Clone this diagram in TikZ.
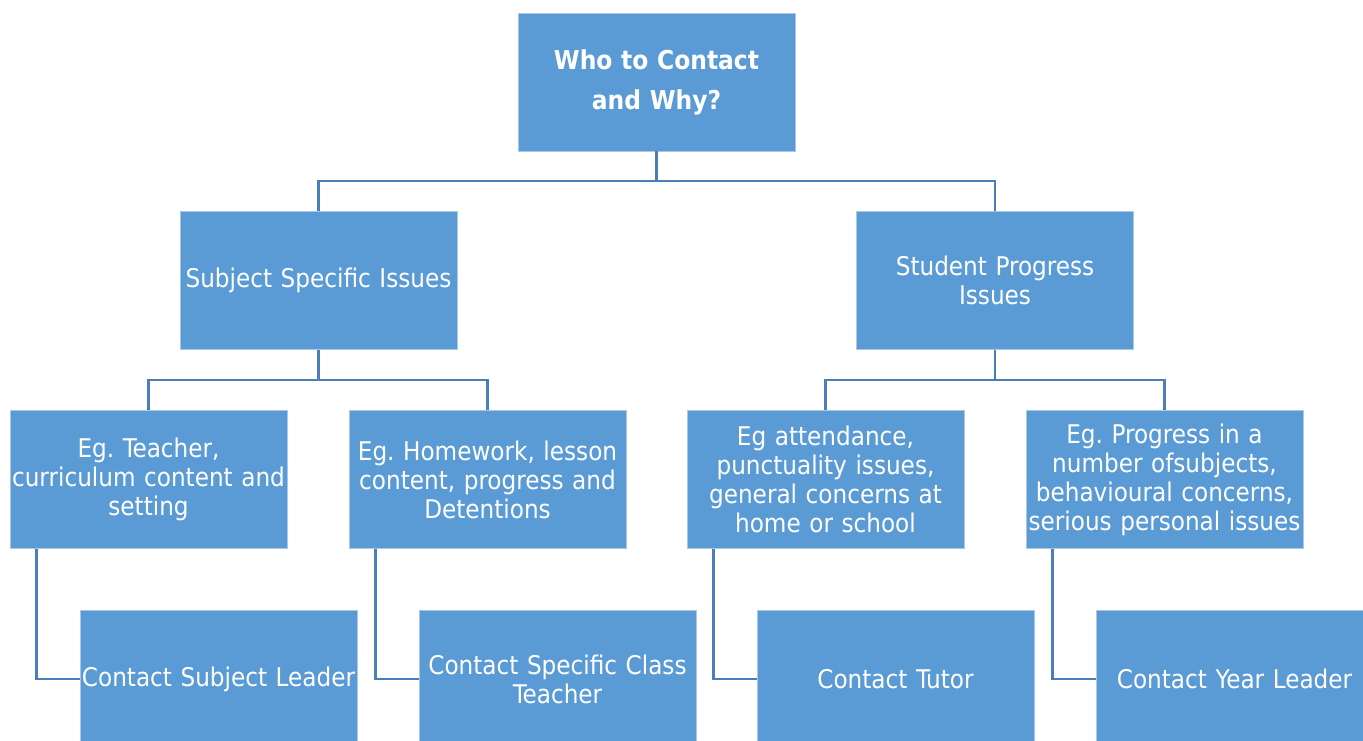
\documentclass[tikz,border=0pt]{standalone}
\usepackage{fontspec}
\setmainfont{DejaVu Sans Condensed}
\usetikzlibrary{positioning}
\frenchspacing
\definecolor{boxblue}{HTML}{5B9BD5}
\definecolor{boxedge}{HTML}{A9C8E8}
\definecolor{linkblue}{HTML}{4A7EBB}
\tikzstyle{block} = [rectangle, draw=boxedge, line width=0.6pt, fill=boxblue,
    text=white, minimum width=207.75pt, minimum height=103.5pt,
    text width=207pt, align=center, inner sep=0pt,
    font=\fontsize{19.3}{21.75}\selectfont]
\tikzstyle{line} = [draw=linkblue, line width=1.8pt]

\begin{document}
\begin{tikzpicture}[x=0.75pt, y=-0.75pt]
    \useasboundingbox (0,0) rectangle (1363,740);
    \clip (0,0) rectangle (1363,740);
    % Place nodes
\node [block, font=\bfseries\fontsize{19.5}{30}\selectfont] (who) at (656.5,82) {Who to Contact\\and Why?};
\node [block] (subject) at (318.5,280.5) {Subject Specific Issues};
\node [block] (progress) at (995,280.5) {Student Progress\\Issues};
\node [block] (teacher) at (148.5,479.5) {Eg. Teacher,\\curriculum content and\\setting};
\node [block] (homework) at (487.5,479.5) {Eg. Homework, lesson\\content, progress and\\Detentions};
\node [block] (attend) at (825.5,479.5) {Eg attendance,\\punctuality issues,\\general concerns at\\home or school};
\node [block] (number) at (1164.5,479.5) {Eg. Progress in a\\number ofsubjects,\\behavioural concerns,\\serious personal issues};
\node [block] (leader) at (218.5,679) {Contact Subject Leader};
\node [block] (classt) at (557.5,679) {Contact Specific Class\\Teacher};
\node [block] (tutor) at (895.5,679) {Contact Tutor};
\node [block] (year) at (1234.5,679) {Contact Year Leader};

    % Draw edges
\coordinate (rootbar) at (656.5,181);
\coordinate (subbar) at (318.5,380);
\coordinate (progbar) at (995,380);
\path [line] (who.south) -- (rootbar);
\path [line] (rootbar) -| (subject.north);
\path [line] (rootbar) -| (progress.north);
\path [line] (subject.south) -- (subbar);
\path [line] (subbar) -| (teacher.north);
\path [line] (subbar) -| (homework.north);
\path [line] (progress.south) -- (progbar);
\path [line] (progbar) -| (attend.north);
\path [line] (progbar) -| (number.north);
\path [line] (teacher.south west) ++(27,0) |- (leader.west);
\path [line] (homework.south west) ++(27,0) |- (classt.west);
\path [line] (attend.south west) ++(27,0) |- (tutor.west);
\path [line] (number.south west) ++(27,0) |- (year.west);

\end{tikzpicture}
\end{document}
